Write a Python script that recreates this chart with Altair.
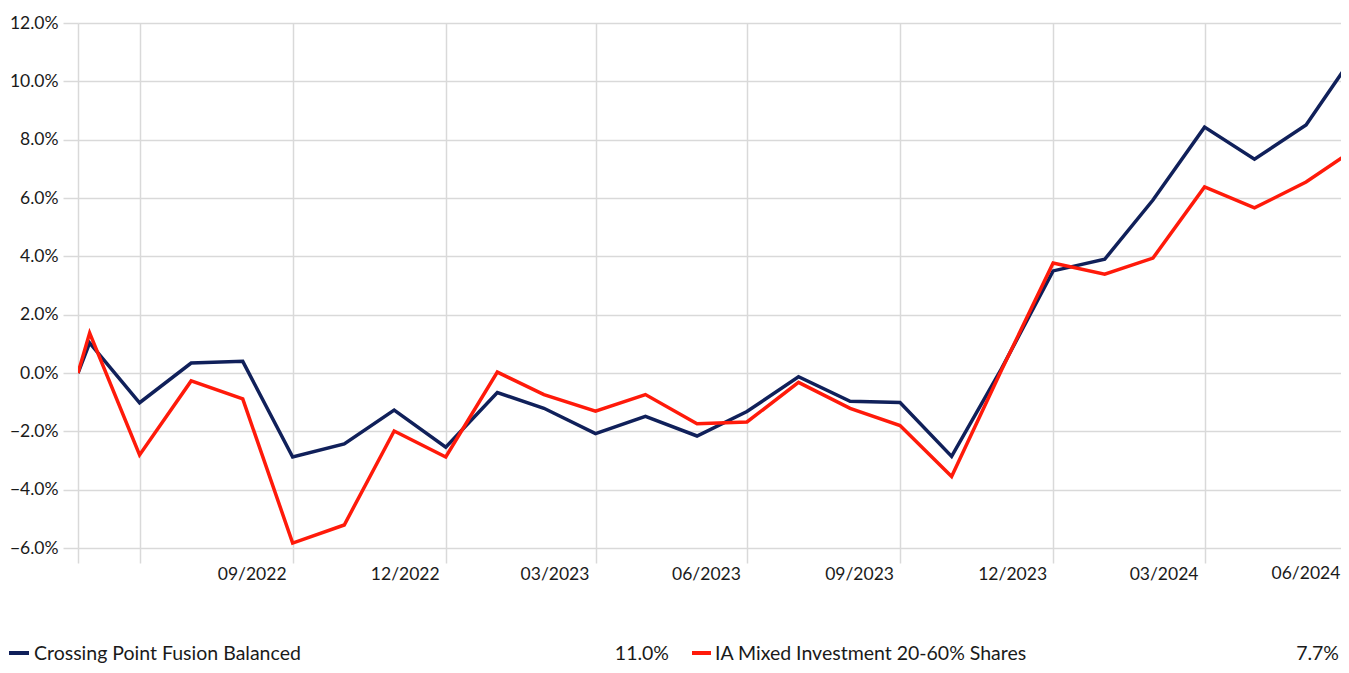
import altair as alt
import pandas as pd

dates = ["2022-05-24", "2022-05-31", "2022-06-30", "2022-07-31", "2022-08-31", "2022-09-30",
         "2022-10-31", "2022-11-30", "2022-12-31", "2023-01-31", "2023-02-28", "2023-03-31",
         "2023-04-30", "2023-05-31", "2023-06-30", "2023-07-31", "2023-08-31", "2023-09-30",
         "2023-10-31", "2023-11-30", "2023-12-31", "2024-01-31", "2024-02-29", "2024-03-31",
         "2024-04-30", "2024-05-31", "2024-06-30"]
fund = [0.0, 1.03, -1.02, 0.34, 0.40, -2.88, -2.43, -1.27, -2.54, -0.67, -1.21, -2.08,
        -1.49, -2.16, -1.32, -0.13, -0.97, -1.01, -2.86, 0.15, 3.50, 3.90, 5.93, 8.43,
        7.33, 8.50, 11.0]
sector = [0.0, 1.37, -2.81, -0.27, -0.89, -5.83, -5.21, -1.99, -2.88, 0.03, -0.74, -1.31,
          -0.74, -1.74, -1.68, -0.32, -1.21, -1.80, -3.55, 0.10, 3.77, 3.39, 3.94, 6.38,
          5.66, 6.55, 7.7]
series_names = ["Crossing Point Fusion Balanced", "IA Mixed Investment 20-60% Shares"]
series_colors = ["#10205A", "#FF1A0A"]
y_ticks = [-6, -4, -2, 0, 2, 4, 6, 8, 10, 12]
tick_dates = ["2022-05-24", "2022-06-30", "2022-09-30", "2022-12-31", "2023-03-31",
              "2023-06-30", "2023-09-30", "2023-12-31", "2024-03-31"]
last_tick = "2024-06-30"

FONT = "Lato"
FS = 17.5
LFS = 19.5
GRID = "#d9d9d9"
TXT = "#1a1a1a"

df = pd.DataFrame({
    "date": dates * 2,
    "value": fund + sector,
    "series": [series_names[0]] * len(dates) + [series_names[1]] * len(dates),
})


def dt(s, hours=0):
    y, m, d = (int(p) for p in s.split("-"))
    return alt.DateTime(year=y, month=m, date=d, hours=hours, utc=True)


x_scale = alt.Scale(type="utc", domain=[dt("2022-05-24"), dt("2024-06-21")])
x_enc = alt.X(
    "date:T",
    scale=x_scale,
    axis=alt.Axis(
        title=None, values=[dt(s) for s in tick_dates], grid=True, gridColor=GRID, gridWidth=1.5,
        domain=False, ticks=True, tickColor=GRID, tickWidth=1.5, tickSize=15,
        labelExpr="datum.value < datetime(2022, 7, 1) ? '' : utcFormat(datum.value, '%m/%Y')",
        labelOffset=-41, labelPadding=2, labelBaseline="top", labelFont=FONT,
        labelFontSize=FS, labelColor=TXT, labelFlush=False, labelOverlap=False,
    ),
)
y_enc = alt.Y(
    "value:Q",
    scale=alt.Scale(domain=[-6, 12], nice=False, zero=False),
    axis=alt.Axis(
        title=None, values=y_ticks, grid=True, gridColor=GRID, gridWidth=1.5,
        domain=False, ticks=True, tickColor=GRID, tickWidth=1.5, tickSize=15,
        labelExpr="format(datum.value, '.1f') + '%'", labelPadding=5,
        labelFont=FONT, labelFontSize=FS, labelColor=TXT,
    ),
)

lines = alt.Chart(df).mark_line(strokeWidth=3.5, clip=True).encode(
    x=x_enc,
    y=y_enc,
    color=alt.Color("series:N", scale=alt.Scale(domain=series_names, range=series_colors), legend=None),
    detail="series:N",
)

# the last quarter label sits past the visible end of the axis
last_df = pd.DataFrame({"date": [last_tick], "label": ["06/2024"]})
last_label = alt.Chart(last_df).mark_text(
    align="center", baseline="top", dx=-50, font=FONT, fontSize=FS, color=TXT
).encode(x=alt.X("date:T", scale=x_scale), y=alt.value(542), text="label:N")

finals = [fund[-1], sector[-1]]
legend_layers = []
swatch_x = [(-69, -49), (614, 633)]
label_x = [-44, 637]
value_x = [(591, "right"), (1261, "right")]
LEG_Y = 637
for i in range(2):
    ldf = pd.DataFrame({"label": [series_names[i]], "final": [f"{finals[i]:.1f}%"]})
    base = alt.Chart(ldf)
    legend_layers.append(base.mark_rule(strokeWidth=4, color=series_colors[i]).encode(
        x=alt.value(swatch_x[i][0]), x2=alt.value(swatch_x[i][1]), y=alt.value(LEG_Y - 7)))
    legend_layers.append(base.mark_text(align="left", baseline="alphabetic", font=FONT,
                                        fontSize=LFS, color=TXT).encode(
        x=alt.value(label_x[i]), y=alt.value(LEG_Y), text="label:N"))
    legend_layers.append(base.mark_text(align=value_x[i][1], baseline="alphabetic", font=FONT,
                                        fontSize=LFS, color=TXT).encode(
        x=alt.value(value_x[i][0]), y=alt.value(LEG_Y), text="final:N"))

chart = alt.layer(lines, last_label, *legend_layers).properties(
    width=1263, height=525,
    autosize=alt.AutoSizeParams(type="none"),
    padding={"left": 70, "top": 15, "right": 0, "bottom": 117},
    background="white",
).configure_view(stroke=None)

chart.save("out.html", embed_options={"renderer": "svg", "actions": False})
